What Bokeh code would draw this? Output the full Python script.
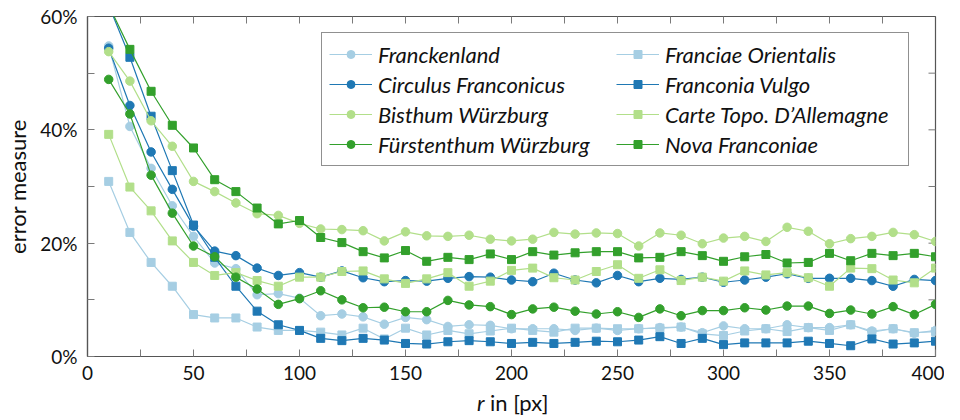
import math
from bokeh.plotting import figure
from bokeh.layouts import column
from bokeh.models import (FixedTicker, PrintfTickFormatter, Legend,
                          LegendItem, Range1d)
from bokeh.core.properties import value
from bokeh.embed import file_html
from bokeh.resources import INLINE

r = list(range(10, 401, 10))

franckenland = [54.8, 40.6, 33.2, 26.6, 21.2, 16.5, 15.5, 10.9, 11.1, 10.3,
                7.2, 7.5, 7.0, 5.7, 6.9, 6.5, 5.3, 5.6, 5.5, 4.9,
                4.9, 4.9, 4.6, 5.0, 4.6, 4.9, 5.1, 5.2, 4.2, 5.4,
                4.9, 4.9, 5.6, 5.1, 5.1, 5.6, 4.5, 4.9, 4.1, 4.6]
franciae_orientalis = [30.9, 21.9, 16.6, 12.4, 7.4, 6.8, 6.8, 5.2, 4.6, 4.6,
                       4.3, 3.8, 5.0, 3.1, 5.0, 3.8, 4.6, 4.0, 4.5, 5.0,
                       4.6, 4.3, 5.0, 5.0, 4.9, 4.9, 5.0, 5.2, 4.0, 3.7,
                       4.5, 4.9, 4.4, 5.1, 4.6, 5.6, 4.3, 4.9, 4.2, 4.4]
circulus_franconicus = [54.4, 44.3, 36.1, 29.5, 23.0, 18.6, 17.8, 15.6, 14.3, 14.8,
                        14.0, 15.1, 13.9, 13.2, 13.4, 13.3, 13.8, 14.1, 14.0, 13.5,
                        13.2, 14.7, 13.5, 13.0, 14.3, 13.2, 13.8, 13.6, 14.0, 13.1,
                        13.5, 14.0, 14.6, 13.8, 13.8, 13.8, 13.4, 12.4, 13.6, 13.4]
franconia_vulgo = [62.0, 52.8, 42.4, 32.8, 23.2, 17.5, 12.4, 8.0, 5.6, 4.6,
                   3.2, 2.8, 3.2, 2.9, 2.3, 2.2, 2.6, 2.8, 2.6, 2.3,
                   2.5, 2.3, 2.5, 2.7, 2.6, 2.9, 3.5, 2.3, 3.2, 2.1,
                   2.4, 2.4, 2.4, 2.7, 2.3, 1.9, 3.1, 2.2, 2.4, 2.7]
bisthum_wuerzburg = [53.8, 48.6, 41.6, 37.1, 30.9, 29.1, 27.1, 25.2, 24.9, 23.5,
                     22.5, 22.4, 22.2, 20.4, 22.0, 21.3, 21.2, 21.4, 20.7, 20.4,
                     20.7, 21.9, 21.6, 21.8, 21.7, 19.5, 21.8, 21.4, 19.9, 20.9,
                     21.2, 20.3, 22.8, 22.1, 19.9, 20.8, 21.2, 21.9, 21.5, 20.3]
carte_topo = [39.2, 29.9, 25.7, 20.4, 16.6, 14.3, 14.8, 13.4, 12.4, 14.0,
              14.0, 15.0, 15.1, 13.7, 12.9, 13.7, 14.8, 12.4, 13.3, 15.2,
              15.6, 13.9, 13.5, 15.0, 16.2, 13.8, 15.3, 13.4, 14.0, 13.3,
              15.1, 14.4, 14.8, 13.9, 12.4, 15.6, 15.5, 13.5, 13.0, 15.6]
fuerstenthum_wuerzburg = [48.9, 42.8, 32.0, 25.3, 19.5, 17.6, 14.0, 11.9, 9.2, 10.2,
                          11.6, 10.0, 8.6, 8.7, 7.9, 7.9, 9.9, 9.1, 8.8, 7.4,
                          8.4, 8.7, 8.0, 7.5, 7.9, 6.9, 8.4, 7.2, 8.1, 8.1,
                          8.6, 8.2, 8.9, 8.9, 7.6, 8.2, 7.5, 8.8, 7.4, 9.2]
nova_franconiae = [62.0, 54.2, 46.8, 40.8, 36.8, 31.2, 29.1, 26.2, 23.4, 24.0,
                   21.0, 20.1, 18.5, 17.4, 18.7, 16.8, 17.5, 17.1, 18.1, 17.1,
                   18.5, 17.9, 18.3, 18.5, 18.5, 17.4, 17.5, 18.5, 17.8, 16.8,
                   17.6, 18.0, 16.5, 16.6, 18.2, 16.9, 18.2, 17.8, 18.2, 17.6]

names = ["Franckenland", "Franciae Orientalis",
         "Circulus Franconicus", "Franconia Vulgo",
         "Bisthum Würzburg", "Carte Topo. D\u2019Allemagne",
         "Fürstenthum Würzburg", "Nova Franconiae"]
series = [franckenland, franciae_orientalis,
          circulus_franconicus, franconia_vulgo,
          bisthum_wuerzburg, carte_topo,
          fuerstenthum_wuerzburg, nova_franconiae]
colors = ["#a6cee3", "#a6cee3", "#1f78b4", "#1f78b4",
          "#b2df8a", "#b2df8a", "#33a02c", "#33a02c"]
markers = ["circle", "square"] * 4

x_ticks = [0, 50, 100, 150, 200, 250, 300, 350, 400]
x_minor = [25, 75, 125, 175, 225, 275, 325, 375]
y_ticks = [0, 20, 40, 60]
y_minor = [10, 30, 50]
x_label_italic = "r"
x_label_rest = "in [px]"
y_label = "error measure"

FONT = "Lato"
AX = "#555555"
TICK = "#7a7a7a"
TXT = "#111111"
W = 944

p = figure(width=W, height=388, output_backend="svg",
           toolbar_location=None,
           x_range=Range1d(0, 400), y_range=Range1d(0, 60),
           min_border_left=87, min_border_right=9, min_border_top=16,
           min_border_bottom=32)
p.xgrid.visible = False
p.ygrid.visible = False
p.outline_line_color = AX
p.outline_line_width = 1.2
p.background_fill_color = "white"

p.xaxis.ticker = FixedTicker(ticks=x_ticks, minor_ticks=x_minor)
p.yaxis.ticker = FixedTicker(ticks=y_ticks, minor_ticks=y_minor)
p.yaxis.formatter = PrintfTickFormatter(format="%d%%")
for ax in (p.xaxis[0], p.yaxis[0]):
    ax.axis_line_color = AX
    ax.axis_line_width = 1.2
    ax.major_tick_line_color = TICK
    ax.minor_tick_line_color = TICK
    ax.major_tick_in = 7
    ax.major_tick_out = 0
    ax.minor_tick_in = 7
    ax.minor_tick_out = 0
    ax.major_label_text_font = FONT
    ax.major_label_text_font_size = "19px"
    ax.major_label_text_color = TXT
p.xaxis.major_label_standoff = 9
p.yaxis.major_label_standoff = 10
p.yaxis.axis_label = y_label
p.yaxis.axis_label_text_font = FONT
p.yaxis.axis_label_text_font_size = "22px"
p.yaxis.axis_label_text_font_style = "normal"
p.yaxis.axis_label_text_color = TXT
p.yaxis.axis_label_standoff = 6

# inward ticks on the top and right frame edges (half of each dash is clipped)
top_ticks = sorted(x_ticks[1:-1] + x_minor)
right_ticks = sorted(y_ticks[1:-1] + y_minor)
p.scatter(top_ticks, [y_ticks[-1]] * len(top_ticks), marker="dash", size=14,
          angle=math.pi / 2, line_color=TICK, line_width=1)
p.scatter([x_ticks[-1]] * len(right_ticks), right_ticks, marker="dash", size=14,
          line_color=TICK, line_width=1)

renderers = {}
for name, ys, c, m in zip(names, series, colors, markers):
    lr = p.line(r, ys, line_color=c, line_width=1.2)
    sr = p.scatter(r, ys, marker=m, size=8.5 if m == "circle" else 8,
                   fill_color=c, line_color=c)
    renderers[name] = [lr, sr]

legend_order = [names[i] for i in (0, 2, 4, 6, 1, 3, 5, 7)]
items = [LegendItem(label=n, renderers=renderers[n]) for n in legend_order]

legend = Legend(items=items, location=(234, 190), ncols=2,
                label_text_font=FONT, label_text_font_style="italic",
                label_text_font_size="22px", label_text_color=TXT,
                glyph_width=43, glyph_height=20, label_height=28, label_width=236,
                spacing=2, padding=7, margin=0, label_standoff=6,
                border_line_color="#222222", border_line_width=1,
                background_fill_alpha=1)
p.add_layout(legend, "center")

# x-axis title strip (mixed italic / upright text), same width as the plot
q = figure(width=W, height=30, output_backend="svg", toolbar_location=None,
           x_range=Range1d(0, W), y_range=Range1d(0, 1),
           x_axis_type=None, y_axis_type=None, min_border=0)
q.outline_line_color = None
q.xgrid.visible = False
q.ygrid.visible = False
q.text(x=[442], y=[0.53], text=[x_label_italic], text_font=value(FONT),
       text_font_size="22px", text_font_style="italic", text_color=TXT,
       text_align="right", text_baseline="middle")
q.text(x=[448], y=[0.53], text=[x_label_rest], text_font=value(FONT),
       text_font_size="22px", text_font_style="normal", text_color=TXT,
       text_align="left", text_baseline="middle")

layout = column(p, q, spacing=0)
open("out.html", "w").write(file_html(layout, INLINE))
